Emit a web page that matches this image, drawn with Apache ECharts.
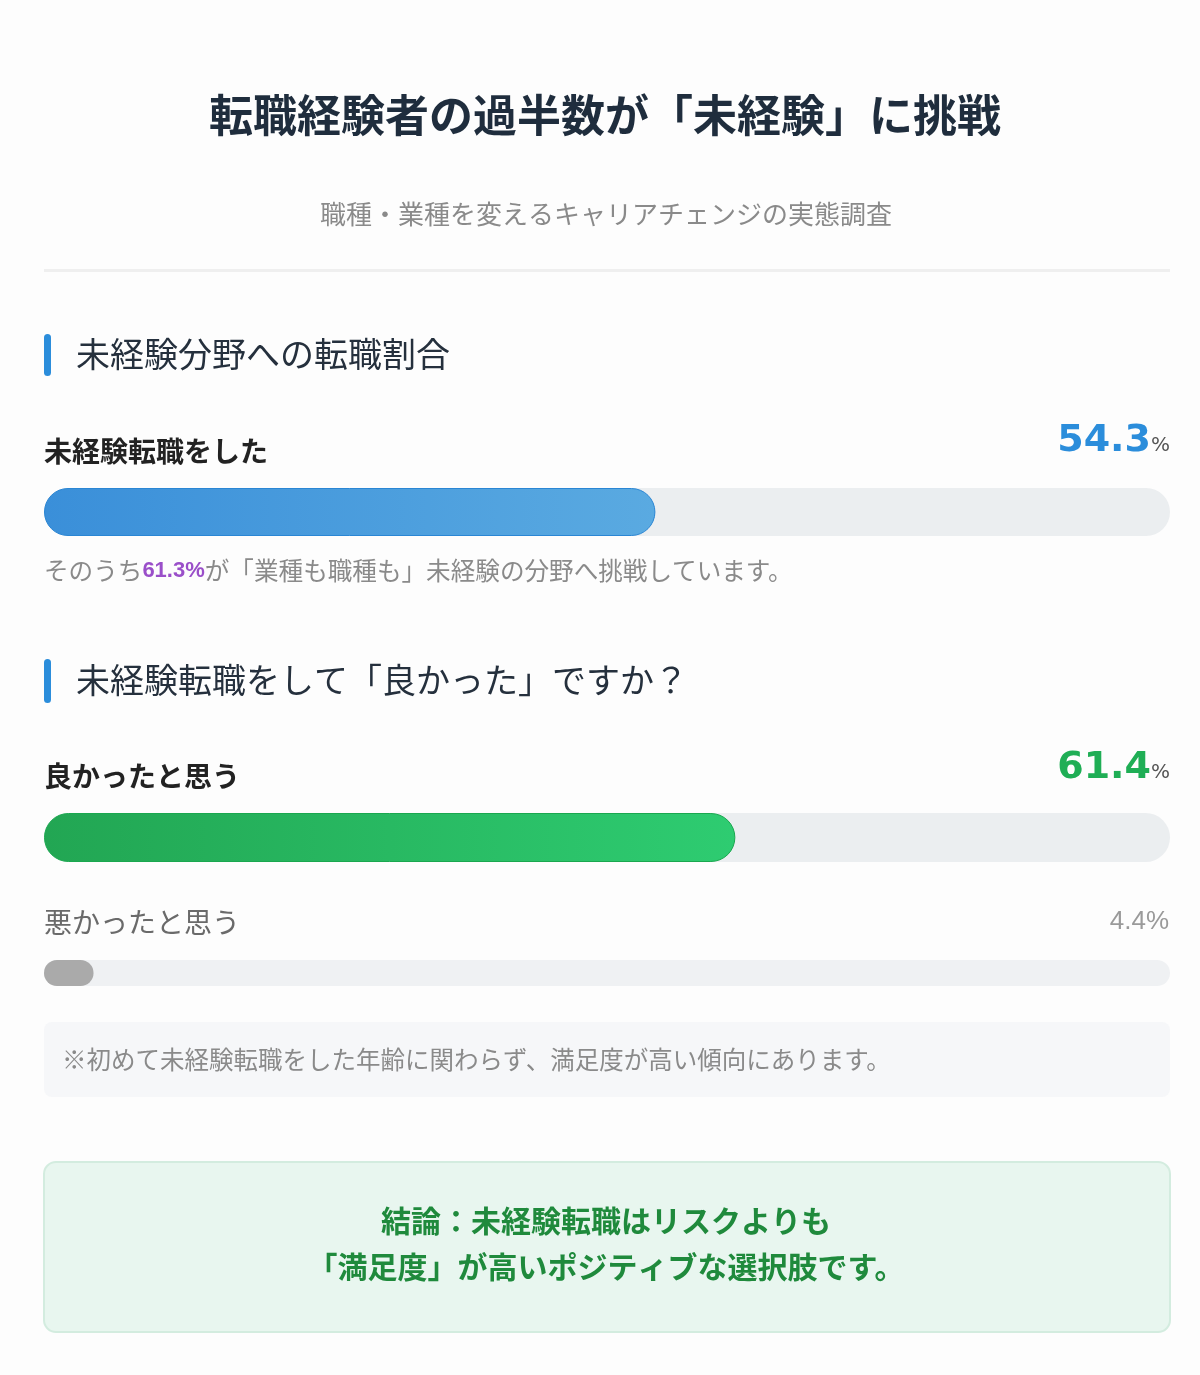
<!DOCTYPE html>
<html>
<head>
<meta charset="utf-8">
<script src="https://cdn.jsdelivr.net/npm/echarts@6/dist/echarts.min.js"></script>
<style>
html,body{margin:0;padding:0;background:#fdfdfd;}
#chart{width:1200px;height:1375px;}
</style>
</head>
<body>
<div id="chart"></div>
<script>
// ---- data ----
const titleText = '転職経験者の過半数が「未経験」に挑戦';
const subtitleText = '職種・業種を変えるキャリアチェンジの実態調査';
const sectionTitles = ['未経験分野への転職割合', '未経験転職をして「良かった」ですか？'];
const categories = ['未経験転職をした', '良かったと思う', '悪かったと思う'];
const values = [54.3, 61.4, 4.4];
const subShare = 61.3;
const noteBefore = 'そのうち';
const noteAfter = 'が「業種も職種も」未経験の分野へ挑戦しています。';
const footNote = '※初めて未経験転職をした年齢に関わらず、満足度が高い傾向にあります。';
const conclusionLines = ['結論：未経験転職はリスクよりも', '「満足度」が高いポジティブな選択肢です。'];

const FONT = '"Noto Sans CJK JP", "Noto Sans", sans-serif';
const chart = echarts.init(document.getElementById('chart'));

const L = 44, W = 1126;
const bars = [
  {top: 488, h: 48, colors: ['#3a8fd9', '#5aaae1'], border: '#2a86d4'},
  {top: 813, h: 49, colors: ['#22a653', '#2ecc71'], border: '#1aa84f'},
  {top: 960, h: 26, colors: ['#aaaaaa', '#aaaaaa'], border: '#aaaaaa'}
];

const grids = [], xAxes = [], yAxes = [], series = [];
bars.forEach((b, i) => {
  grids.push({left: L, width: W, top: b.top, height: b.h, containLabel: false});
  xAxes.push({type: 'value', gridIndex: i, min: 0, max: 100, show: false});
  yAxes.push({type: 'category', gridIndex: i, data: [categories[i]], show: false});
  series.push({
    type: 'bar', xAxisIndex: i, yAxisIndex: i,
    data: [values[i]], barWidth: b.h,
    showBackground: true,
    backgroundStyle: {color: i === 2 ? '#eff1f3' : '#ebeef0', borderRadius: b.h / 2},
    itemStyle: {
      borderRadius: b.h / 2,
      borderColor: b.border, borderWidth: i === 2 ? 0 : 1,
      color: new echarts.graphic.LinearGradient(0, 0, 1, 0, [
        {offset: 0, color: b.colors[0]}, {offset: 1, color: b.colors[1]}
      ])
    },
    silent: true
  });
});

const fmt = v => v.toFixed(1);

const graphic = [
  {type: 'text', style: {text: titleText, x: 605, y: 115, align: 'center', verticalAlign: 'middle',
    font: 'bold 44px ' + FONT, fill: '#1f2d3d'}},
  {type: 'text', style: {text: subtitleText, x: 606, y: 214, align: 'center', verticalAlign: 'middle',
    font: '26px ' + FONT, fill: '#8a8a8a'}},
  {type: 'rect', shape: {x: L, y: 269, width: W, height: 3}, style: {fill: '#efefef'}},
  // section 1
  {type: 'rect', shape: {x: L, y: 334, width: 7, height: 42, r: 3.5}, style: {fill: '#2b8ddb'}},
  {type: 'text', style: {text: sectionTitles[0], x: 76, y: 354, verticalAlign: 'middle',
    font: '34px ' + FONT, fill: '#25303d'}},
  {type: 'text', style: {text: categories[0], x: L, y: 451, verticalAlign: 'middle',
    font: 'bold 28px ' + FONT, fill: '#222'}},
  {type: 'text', style: {text: '{v|' + fmt(values[0]) + '}{p|%}', x: 1170, y: 441, align: 'right', verticalAlign: 'middle',
    rich: {v: {font: 'bold 38px "DejaVu Sans", sans-serif', fill: '#2b8ddb'},
           p: {font: '20px "DejaVu Sans", sans-serif', fill: '#555', padding: [10, 0, 0, 0]}}}},
  {type: 'text', style: {text: '{a|' + noteBefore + '}{b|' + fmt(subShare) + '%}{a|' + noteAfter + '}', x: L, y: 571, verticalAlign: 'middle',
    rich: {a: {font: '24.6px ' + FONT, fill: '#8a8a8a'},
           b: {font: 'bold 22px "Liberation Sans", sans-serif', fill: '#9a4fc9'}}}},
  // section 2
  {type: 'rect', shape: {x: L, y: 659, width: 7, height: 44, r: 3.5}, style: {fill: '#2b8ddb'}},
  {type: 'text', style: {text: sectionTitles[1], x: 76, y: 680, verticalAlign: 'middle',
    font: '34px ' + FONT, fill: '#25303d'}},
  {type: 'text', style: {text: categories[1], x: L, y: 776, verticalAlign: 'middle',
    font: 'bold 28px ' + FONT, fill: '#222'}},
  {type: 'text', style: {text: '{v|' + fmt(values[1]) + '}{p|%}', x: 1170, y: 768, align: 'right', verticalAlign: 'middle',
    rich: {v: {font: 'bold 38px "DejaVu Sans", sans-serif', fill: '#1fae55'},
           p: {font: '20px "DejaVu Sans", sans-serif', fill: '#555', padding: [10, 0, 0, 0]}}}},
  {type: 'text', style: {text: categories[2], x: L, y: 922, verticalAlign: 'middle',
    font: '28px ' + FONT, fill: '#6a6a6a'}},
  {type: 'text', style: {text: fmt(values[2]) + '%', x: 1169, y: 922, align: 'right', verticalAlign: 'middle',
    font: '26px "Liberation Sans", sans-serif', fill: '#9a9a9a'}},
  // foot note box
  {type: 'rect', shape: {x: L, y: 1022, width: W, height: 75, r: 8}, style: {fill: '#f6f7f9'}},
  {type: 'text', style: {text: footNote, x: 62, y: 1060, verticalAlign: 'middle',
    font: '24.5px ' + FONT, fill: '#8a8a8a'}},
  // conclusion box
  {type: 'rect', shape: {x: L, y: 1162, width: W, height: 170, r: 12},
    style: {fill: '#e8f6ef', stroke: '#d3ecdf', lineWidth: 2}},
  {type: 'text', style: {text: conclusionLines[0], x: 606, y: 1221, align: 'center', verticalAlign: 'middle',
    font: 'bold 30px ' + FONT, fill: '#1f8a3c'}},
  {type: 'text', style: {text: conclusionLines[1], x: 606, y: 1267, align: 'center', verticalAlign: 'middle',
    font: 'bold 30px ' + FONT, fill: '#1f8a3c'}}
];

chart.setOption({
  animation: false,
  backgroundColor: '#fdfdfd',
  grid: grids, xAxis: xAxes, yAxis: yAxes, series: series,
  graphic: graphic
});
</script>
</body>
</html>
